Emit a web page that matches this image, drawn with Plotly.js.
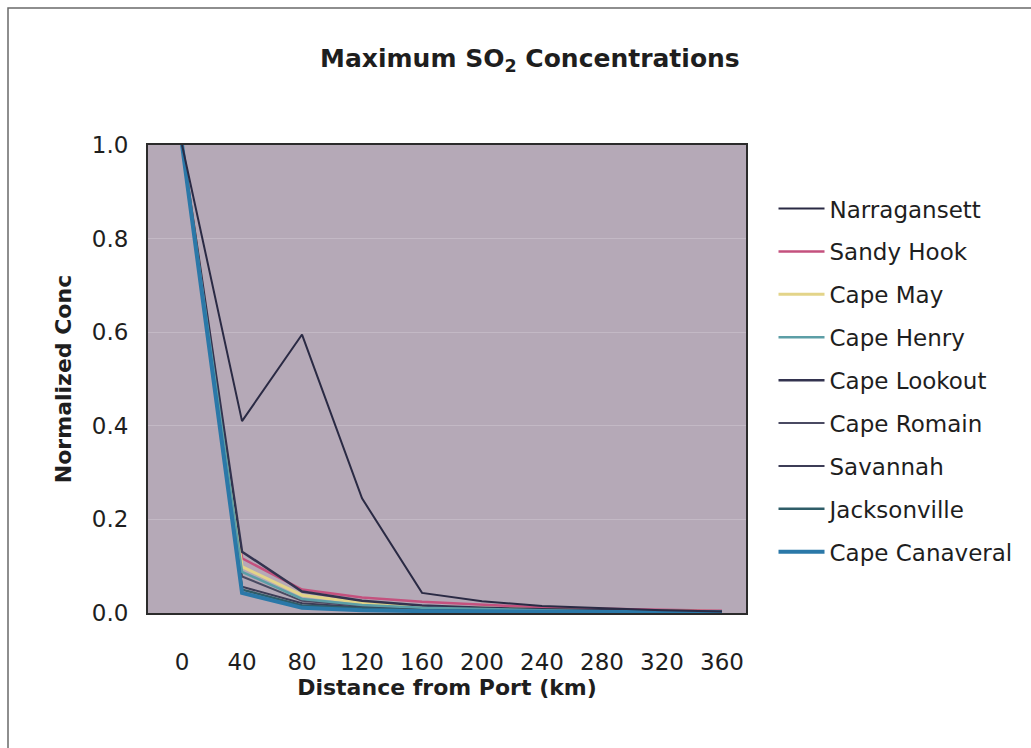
<!DOCTYPE html>
<html>
<head>
<meta charset="utf-8">
<script src="https://cdn.plot.ly/plotly-3.0.1.min.js"></script>
<style>
  html, body { margin: 0; padding: 0; background: #ffffff; }
  #chart { width: 1031px; height: 748px; }
</style>
</head>
<body>
<div id="chart"></div>
<script>
// Distance from port (km) at which each maximum was computed
const distanceKm = [0, 40, 80, 120, 160, 200, 240, 280, 320, 360];

// Port names, in legend order
const ports = [
  "Narragansett", "Sandy Hook", "Cape May", "Cape Henry", "Cape Lookout",
  "Cape Romain", "Savannah", "Jacksonville", "Cape Canaveral"
];

// Normalized maximum SO2 concentration per port
const narragansett  = [1.0, 0.41, 0.595, 0.245, 0.043, 0.025, 0.015, 0.010, 0.006, 0.003];
const sandyHook     = [1.0, 0.117, 0.050, 0.033, 0.024, 0.018, 0.012, 0.009, 0.007, 0.005];
const capeMay       = [1.0, 0.099, 0.038, 0.022, 0.014, 0.010, 0.007, 0.005, 0.004, 0.003];
const capeHenry     = [1.0, 0.088, 0.030, 0.017, 0.011, 0.008, 0.006, 0.004, 0.003, 0.002];
const capeLookout   = [1.0, 0.131, 0.046, 0.026, 0.016, 0.011, 0.008, 0.006, 0.004, 0.003];
const capeRomain    = [1.0, 0.078, 0.026, 0.015, 0.010, 0.007, 0.005, 0.004, 0.003, 0.002];
const savannah      = [1.0, 0.056, 0.021, 0.012, 0.008, 0.006, 0.004, 0.003, 0.002, 0.001];
const jacksonville  = [1.0, 0.050, 0.016, 0.010, 0.006, 0.004, 0.003, 0.002, 0.002, 0.001];
const capeCanaveral = [1.0, 0.043, 0.011, 0.006, 0.004, 0.003, 0.002, 0.001, 0.001, 0.001];

const seriesValues = [
  narragansett, sandyHook, capeMay, capeHenry, capeLookout,
  capeRomain, savannah, jacksonville, capeCanaveral
];

const lineColors = [
  "#2a2a44", "#c4517e", "#e3d489", "#5c9ea6", "#33334f",
  "#4a4a62", "#3c3c56", "#2f5d68", "#2b78a8"
];
const lineWidths = [2, 2.5, 3, 2.5, 2.5, 2, 2, 2.5, 4];

// Draw order: the thick blue curve sits on top of the others
const drawOrder = [1, 2, 4, 5, 6, 3, 7, 8, 0];

const traces = drawOrder.map(i => ({
  type: "scatter",
  mode: "lines",
  name: ports[i],
  x: distanceKm,
  y: seriesValues[i],
  legendrank: i + 1,
  legendgroup: "g" + i,
  line: { color: lineColors[i], width: lineWidths[i] },
  hoverinfo: "x+y+name"
}));

const family = "DejaVu Sans, Verdana, sans-serif";
const font = { family: family, color: "#1e1e1e" };

const layout = {
  width: 1031,
  height: 748,
  paper_bgcolor: "#ffffff",
  plot_bgcolor: "#b5a9b7",
  margin: { l: 148, r: 285, t: 145, b: 135, pad: 0 },
  font: Object.assign({ size: 23 }, font),
  title: {
    text: "<b>Maximum SO<sub>2</sub> Concentrations</b>",
    font: Object.assign({}, font, { size: 25 }),
    x: 0.514, xanchor: "center",
    y: 0.922, yanchor: "middle"
  },
  xaxis: {
    range: [-22.7, 376],
    tickvals: distanceKm,
    ticktext: distanceKm.map(String),
    showgrid: false,
    zeroline: false,
    showline: true,
    linecolor: "#2b2b2b",
    linewidth: 2,
    mirror: true,
    ticks: "",
    ticklabelstandoff: 27,
    tickfont: Object.assign({}, font, { size: 23 }),
    title: {
      text: "<b>Distance from Port (km)</b>",
      font: Object.assign({}, font, { size: 22 }),
      standoff: 0
    },
    fixedrange: true
  },
  yaxis: {
    range: [0, 1],
    tickvals: [0, 0.2, 0.4, 0.6, 0.8, 1.0],
    ticktext: ["0.0", "0.2", "0.4", "0.6", "0.8", "1.0"],
    showgrid: true,
    gridcolor: "#c3b9c5",
    gridwidth: 1,
    zeroline: false,
    showline: true,
    linecolor: "#2b2b2b",
    linewidth: 2,
    mirror: true,
    ticks: "",
    ticklabelstandoff: 13,
    tickfont: Object.assign({}, font, { size: 23 }),
    title: {
      text: "<b>Normalized Conc</b>",
      font: Object.assign({}, font, { size: 22 }),
      standoff: 14
    },
    fixedrange: true
  },
  showlegend: true,
  legend: {
    x: 1.046, xanchor: "left",
    y: 0.91, yanchor: "top",
    bgcolor: "rgba(255,255,255,0)",
    font: Object.assign({}, font, { size: 23 }),
    tracegroupgap: 10,
    traceorder: "grouped",
    itemwidth: 46
  },
  shapes: [
    // outer frame around the whole chart
    {
      type: "rect", xref: "paper", yref: "paper",
      x0: (8 - 148) / 598, x1: (1050 - 148) / 598,
      y0: (613 - 770) / 468, y1: (613 - 8) / 468,
      line: { color: "#6a6a6a", width: 1.5 },
      fillcolor: "rgba(0,0,0,0)",
      layer: "below"
    }
  ]
};

Plotly.newPlot("chart", traces, layout, { displayModeBar: false, staticPlot: true });
</script>
</body>
</html>
